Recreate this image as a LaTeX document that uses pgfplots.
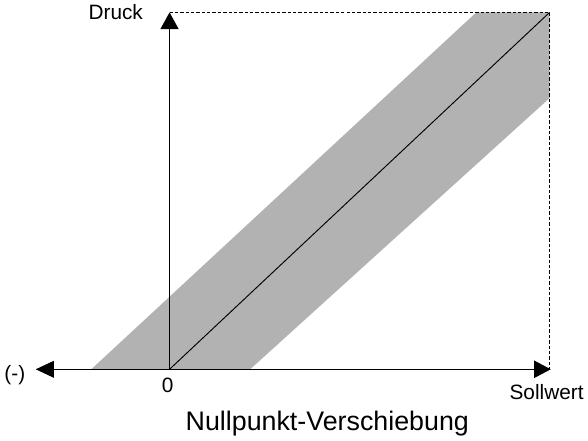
\documentclass[border=0pt]{standalone}
\usepackage{pgfplots}
\pgfplotsset{compat=1.18}
\usepackage{fontspec}
\setmainfont{Liberation Sans}
\usetikzlibrary{arrows.meta}
\begin{document}
\begin{tikzpicture}
\begin{axis}[
  scale only axis, width=441pt, height=332.25pt,
  xmin=-0.455, xmax=1.1005, ymin=-0.2, ymax=1.048,
  axis lines=none, clip=false,
]
\addplot[fill=black!30, draw=none] coordinates {(-0.206,0) (0.807,1) (1,1) (1,0.76) (0.212,0)} -- cycle;
\addplot[black, line width=0.7pt] coordinates {(0,0) (1,1)};
\addplot[black, line width=0.6pt, dash pattern=on 2.5pt off 1.5pt] coordinates {(0,1) (1,1) (1,0)};
\draw[line width=0.8pt, -{Triangle[width=13.5pt,length=12.5pt]}] (axis cs:0,0) -- (axis cs:0,1.0);
\draw[line width=0.8pt, {Triangle[width=12.5pt,length=13.5pt]}-{Triangle[width=13pt,length=12.5pt]}] (axis cs:-0.352,0) -- (axis cs:1.003,0);
\node[anchor=base, font=\fontsize{15.5}{18}\selectfont] at (axis cs:-0.1415,0.980) {Druck};
\node[anchor=base, font=\fontsize{15.5}{18}\selectfont] at (axis cs:-0.407,-0.031) {(-)};
\node[anchor=base, font=\fontsize{15.5}{18}\selectfont] at (axis cs:-0.005,-0.065) {0};
\node[anchor=base, font=\fontsize{15.5}{18}\selectfont] at (axis cs:0.992,-0.0845) {Sollwert};
\node[anchor=base, font=\fontsize{20}{24}\selectfont] at (axis cs:0.415,-0.172) {Nullpunkt-Verschiebung};
\end{axis}
\end{tikzpicture}
\end{document}
